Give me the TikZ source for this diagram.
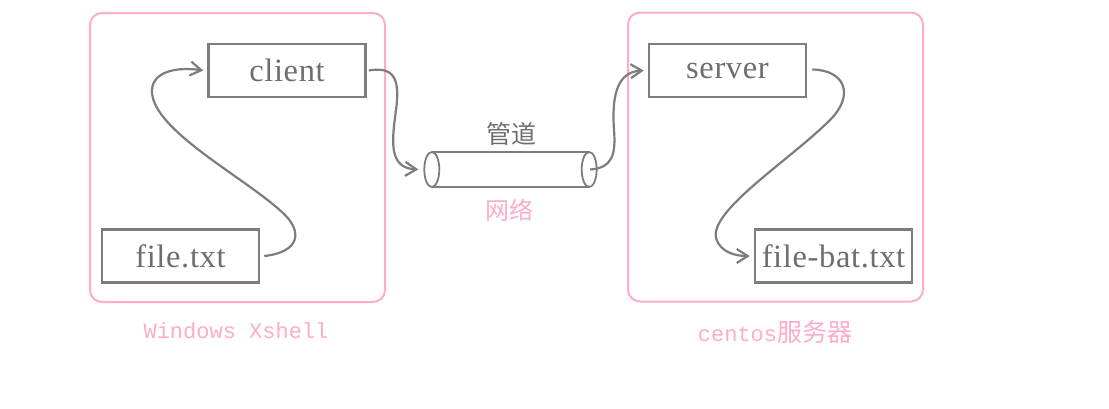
\documentclass[tikz,border=0pt]{standalone}
\usepackage{fontspec}
\newfontfamily\cjk{Noto Sans CJK SC}
\newfontfamily\boxfont[LetterSpace=2]{Liberation Serif}
\setmonofont{Liberation Mono}
\usetikzlibrary{arrows.meta}
\definecolor{pinkc}{RGB}{255,172,198}
\definecolor{grayc}{RGB}{125,125,125}
\definecolor{textc}{RGB}{110,110,110}
\begin{document}
\begin{tikzpicture}[x=1pt,y=-1pt,
  frame/.style={draw=pinkc, line width=2pt, rounded corners=12pt, minimum width=295pt, minimum height=289pt, inner sep=0pt},
  filebox/.style={draw=grayc, line width=2.5pt, minimum width=157pt, minimum height=53pt, inner sep=0pt, font=\boxfont\fontsize{32.5}{36}\selectfont, text=textc},
  flow/.style={draw=grayc, line width=2.2pt, -{Straight Barb[length=11pt,width=14pt]}},
  pipeline/.style={draw=grayc, line width=1.8pt},
  pinklabel/.style={text=pinkc, inner sep=0pt},
]
\useasboundingbox (0,0) rectangle (1109,408);
% frames
\node[frame] (lf) at (237.5,157.5) {};
\node[frame] (rf) at (775.5,157) {};
% boxes
\node[filebox] (cl) at (287,70.5) {client};
\node[filebox] (fb) at (180.5,256) {file.txt};
\node[filebox] (sv) at (727.5,70.5) {server};
\node[filebox] (fbt) at (833.5,256) {file-bat.txt};
% pipe
\node[minimum width=157pt, minimum height=35pt, inner sep=0pt] (pipe) at (510.5,169.5) {};
\draw[pipeline] (pipe.north west) -- (pipe.north east);
\draw[pipeline] (pipe.south west) -- (pipe.south east);
\draw[pipeline, fill=white] (pipe.west) ellipse [x radius=7.5, y radius=17.5];
\draw[pipeline] (pipe.east) ellipse [x radius=7.5, y radius=17.5];
% labels
\node[text=textc, font=\cjk\fontsize{25}{28}\selectfont, inner sep=0pt] (gd) at (511,134) {管道};
\node[pinklabel, font=\cjk\fontsize{24}{28}\selectfont] (wl) at (509,210) {网络};
\node[pinklabel, font=\ttfamily\fontsize{22}{26}\selectfont] (wx) at (236,331) {Windows Xshell};
\node[pinklabel] (cs) at (775,332) {{\ttfamily\fontsize{22}{26}\selectfont centos}{\cjk\fontsize{25}{28}\selectfont 服务器}};
% connectors
\draw[flow] ([xshift=4pt]fb.east) .. controls (300,252) and (302,232) .. (285,215)
  .. controls (250,180) and (150,130) .. (152,90)
  .. controls (153,70) and (180,67) .. ([xshift=-4pt]cl.west);
\draw[flow] ([xshift=2pt]cl.east) .. controls (395,66) and (400,80) .. (396,110)
  .. controls (392,140) and (388,168) .. ([xshift=-13.5pt]pipe.west);
\draw[flow] ([xshift=1pt]pipe.east) .. controls (612,168) and (616,155) .. (614,130)
  .. controls (612,100) and (615,72) .. ([xshift=-4pt]sv.west);
\draw[flow] ([xshift=5pt,yshift=1pt]sv.east) .. controls (845,70) and (855,95) .. (830,120)
  .. controls (790,160) and (710,210) .. (716,238)
  .. controls (720,252) and (735,256) .. ([xshift=-4pt]fbt.west);
\end{tikzpicture}
\end{document}
